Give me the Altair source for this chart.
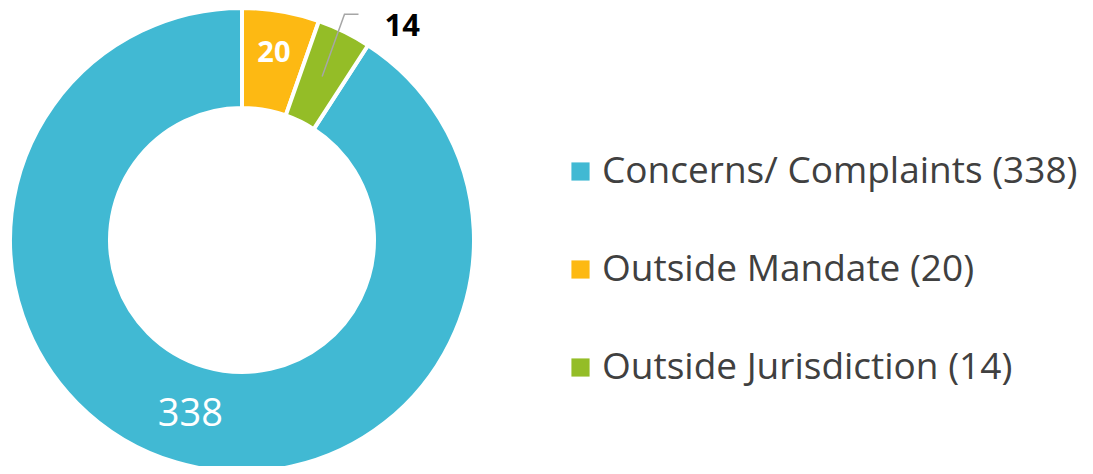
import math
import altair as alt
import pandas as pd

categories = ["Concerns/ Complaints", "Outside Mandate", "Outside Jurisdiction"]
values = [338, 20, 14]
colors = ["#41B9D3", "#FDB913", "#94BD27"]
draw_order = [2, 0, 1]  # clockwise from 12 o'clock: Mandate, Jurisdiction, Complaints

labels = [f"{c} ({v})" for c, v in zip(categories, values)]
inside_regular = ["338", "", ""]
inside_bold = ["", "20", ""]

df = pd.DataFrame({
    "label": labels,
    "value": values,
    "ord": draw_order,
    "txtA": inside_regular,
    "txtB": inside_bold,
})

W, H = 1077, 458
CX, CY = 234, 232
R_IN, R_OUT = 132, 232

base = alt.Chart(df).encode(
    theta=alt.Theta("value:Q", stack=True),
    order=alt.Order("ord:Q"),
)

arcs = base.mark_arc(innerRadius=R_IN, outerRadius=R_OUT, stroke="white", strokeWidth=4).encode(
    x=alt.value(CX), y=alt.value(CY),
    color=alt.Color("label:N", scale=alt.Scale(domain=labels, range=colors),
                    sort=labels, title=None,
                    legend=alt.Legend(orient="none", legendX=554, legendY=145,
                                      symbolType="square", symbolSize=330,
                                      symbolStrokeWidth=0, labelFontSize=37,
                                      labelColor="#404040", labelFont="Open Sans",
                                      labelOffset=3, rowPadding=60,
                                      labelLimit=600)),
)

textA = base.mark_text(radius=182, font="Open Sans", fontSize=38, color="white").encode(
    x=alt.value(CX), y=alt.value(CY), text="txtA:N")
textB = base.mark_text(radius=190, font="Open Sans", fontSize=29, fontWeight="bold", color="white").encode(
    x=alt.value(CX), y=alt.value(CY), text="txtB:N")

# leader line + outside label for the small slice, derived from the slice's mid angle
total = sum(values)
mid = 2 * math.pi * (values[1] + values[2] / 2) / total
p1 = (CX + 182 * math.sin(mid), CY - 182 * math.cos(mid))
p2 = (CX + 248 * math.sin(mid - 0.03), CY - 248 * math.cos(mid - 0.03))
p3 = (p2[0] + 14, p2[1])
lead = pd.DataFrame({"lx": [p1[0], p2[0], p3[0]], "ly": [p1[1], p2[1], p3[1]], "k": [0, 1, 2]})
leader = alt.Chart(lead).mark_line(color="#A6A6A6", strokeWidth=1.5).encode(
    x=alt.X("lx:Q", scale=None, axis=None),
    y=alt.Y("ly:Q", scale=None, axis=None),
    order="k:Q",
)
outside = pd.DataFrame({"lx": [p3[0]], "ly": [p3[1]], "t": [str(values[2])]})
textC = alt.Chart(outside).mark_text(align="left", baseline="middle", dx=26, dy=13,
                                     font="Open Sans", fontSize=31, fontWeight="bold",
                                     color="black").encode(
    x=alt.X("lx:Q", scale=None, axis=None),
    y=alt.Y("ly:Q", scale=None, axis=None),
    text="t:N",
)

chart = alt.layer(arcs, textA, textB, leader, textC).properties(
    width=W, height=H, padding=0, autosize=alt.AutoSizeParams(type="none"),
).configure_view(stroke=None)

chart.save("out.html", embed_options={"renderer": "svg", "actions": False})
